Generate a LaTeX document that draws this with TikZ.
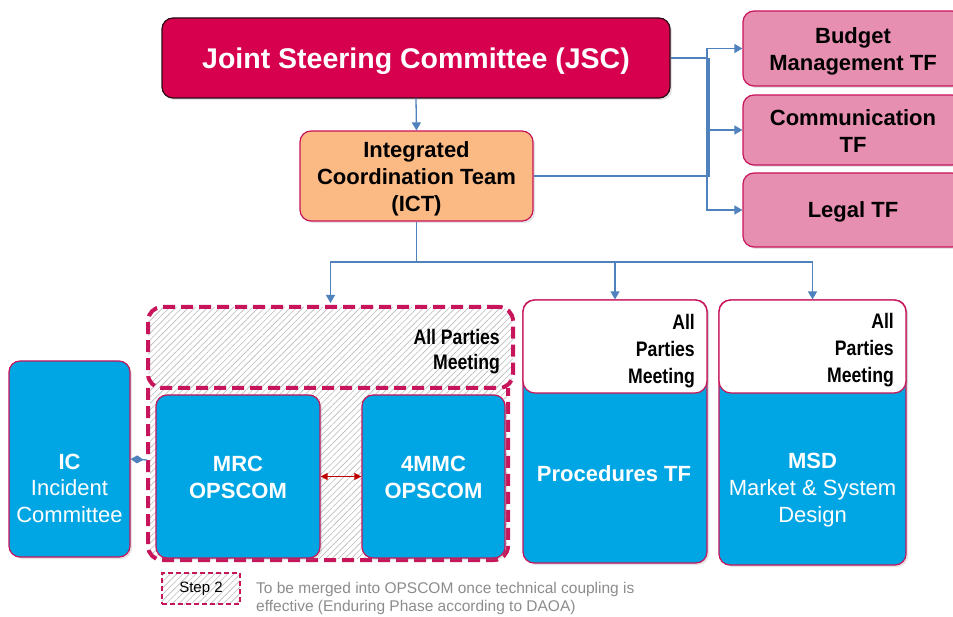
\documentclass[tikz,border=0pt]{standalone}
\usepackage{fontspec}
\setmainfont{Liberation Sans}
\newfontfamily\narrowfont[FakeStretch=0.84]{Liberation Sans}
\usetikzlibrary{arrows.meta,shadows,patterns.meta,calc}
\definecolor{jscred}{HTML}{D6004F}
\definecolor{jscdark}{HTML}{2A0A14}
\definecolor{crim}{HTML}{C8145A}
\definecolor{tfpink}{HTML}{E68FB0}
\definecolor{peach}{HTML}{FBB984}
\definecolor{cyanbox}{HTML}{00A6E4}
\definecolor{connblue}{HTML}{4F81BD}
\definecolor{darkred}{HTML}{C00000}
\definecolor{legendgray}{HTML}{8C8C8C}
\tikzset{
  base/.style={rounded corners=11pt, line width=1.2pt, inner sep=0pt,
    drop shadow={opacity=0.22,shadow xshift=2pt,shadow yshift=-2pt}},
  jscbox/.style={base, fill=jscred, draw=jscdark},
  ictbox/.style={base, fill=peach, draw=crim},
  tfbox/.style={base, fill=tfpink, draw=crim},
  bluebox/.style={base, fill=cyanbox, draw=crim},
  whitetop/.style={rounded corners=12pt, line width=1.2pt, fill=white, draw=crim, inner sep=0pt,
    drop shadow={opacity=0.22,shadow xshift=1.5pt,shadow yshift=-1.5pt}},
  boldtxt/.style={align=center, inner sep=0pt, font=\fontsize{22}{27}\selectfont\bfseries},
  whitetxt/.style={align=center, inner sep=0pt, text=white, font=\fontsize{22}{27}\selectfont\bfseries},
  apmtext/.style={anchor=east, align=right, inner sep=0pt,
    font=\narrowfont\fontsize{21}{27}\selectfont\bfseries},
  hatch/.style={pattern={Lines[angle=45,distance=4.5pt,line width=0.6pt]}, pattern color=gray!55},
  dashline/.style={draw=crim, line width=4pt, dash pattern=on 12pt off 6pt},
  conn/.style={draw=connblue, line width=1.3pt, -{Triangle[length=8pt,width=9pt]}},
  plainconn/.style={draw=connblue, line width=1.3pt},
}
\begin{document}
\begin{tikzpicture}[x=1pt,y=-1pt]
\useasboundingbox (0,0) rectangle (953,617);

% top level
\node[jscbox, minimum width=508pt, minimum height=80pt] (jsc) at (416,58) {};
\node[text=white, inner sep=0pt, font=\fontsize{28.5}{34}\selectfont\bfseries] (jsct) at (416,61) {Joint Steering Committee (JSC)};
\node[ictbox, minimum width=233pt, minimum height=90pt] (ict) at (416.5,176) {};
\node[boldtxt] (ictt) at (416.5,179) {Integrated\\Coordination Team\\(ICT)};
\node[tfbox, minimum width=220pt, minimum height=75pt] (budget) at (853,48.5) {};
\node[boldtxt] (budgett) at (853,51) {Budget\\Management TF};
\node[tfbox, minimum width=220pt, minimum height=70pt] (comm) at (853,130) {};
\node[boldtxt] (commt) at (853,131) {Communication\\TF};
\node[tfbox, minimum width=220pt, minimum height=74pt] (legal) at (853,210) {};
\node[boldtxt] (legalt) at (853,212) {Legal TF};

% connectors at the top
\coordinate (jr) at (707,58);
\draw[plainconn] (jsc.east) -- (jr);
\draw[conn] (jr) |- (budget.west);
\draw[conn] (jr) |- (comm.west);
\draw[conn] (jr) |- (legal.west);
\draw[plainconn] (ict.east) -| ($(jr)+(2,0)$);
\draw[conn] (jsc.south) -- (ict.north);

% hatched dashed OPSCOM region
\path[hatch, rounded corners=14pt] (150,380) rectangle (507,559);
\draw[dashline, rounded corners=14pt] (148,388) -- (148,560) -- (508,560) -- (508,388);
\node[rounded corners=14pt, hatch, dashline, minimum width=365pt, minimum height=81pt, inner sep=0pt] (apm) at (330.5,347.5) {};
\node[apmtext, font=\narrowfont\fontsize{21}{25}\selectfont\bfseries] (apmt) at (500,351.5) {All Parties\\Meeting};

\node[bluebox, minimum width=164pt, minimum height=163pt] (mrc) at (238,476.5) {};
\node[whitetxt] (mrct) at (238,477.5) {MRC\\OPSCOM};
\node[bluebox, minimum width=143pt, minimum height=163pt] (mmc) at (433.5,476.5) {};
\node[whitetxt] (mmct) at (433.5,477.5) {4MMC\\OPSCOM};
\draw[draw=darkred, line width=1.3pt, {Triangle[length=7pt,width=7pt]}-{Triangle[length=7pt,width=7pt]}] (mrc.east) -- (mmc.west);

% IC
\node[bluebox, minimum width=121pt, minimum height=196pt] (ic) at (69.5,459) {};
\node[text=white, align=center, inner sep=0pt, font=\fontsize{22}{26.5}\selectfont] (ictext) at (69.5,488) {\textbf{IC}\\Incident\\Committee};
\coordinate (opsl) at (147,460);
\draw[draw=connblue, line width=1.3pt, {Diamond[length=13pt,width=8pt]}-] (ic.east) -- (opsl);

% Procedures TF
\node[bluebox, minimum width=184pt, minimum height=263pt] (proc) at (615,431.5) {};
\node[whitetop, minimum width=184pt, minimum height=93pt] (procapm) at (615,346.5) {};
\node[apmtext] (procapmt) at (695,351) {All\\Parties\\Meeting};
\node[whitetxt] (proctext) at (614,474) {Procedures TF};

% MSD
\node[bluebox, minimum width=187pt, minimum height=265pt] (msd) at (812.5,432.5) {};
\node[whitetop, minimum width=187pt, minimum height=93pt] (msdapm) at (812.5,346.5) {};
\node[apmtext] (msdapmt) at (894,350) {All\\Parties\\Meeting};
\node[text=white, align=center, inner sep=0pt, font=\fontsize{22}{27}\selectfont] (msdtext) at (812.5,490) {\textbf{MSD}\\Market \& System\\Design};

% ICT down connectors
\coordinate (ib) at (416.5,262);
\draw[plainconn] (ict.south) -- (ib);
\draw[conn] (ib) -| ($(apm.north)+(0,-2)$);
\draw[conn] (ib) -| (proc.north);
\draw[conn] (ib) -| (msd.north);

% legend
\node[hatch, draw=crim, line width=1.5pt, dash pattern=on 5pt off 3pt, minimum width=78pt, minimum height=31pt, inner sep=0pt,
  font=\fontsize{15}{18}\selectfont] (step) at (201,588.5) {Step 2};
\node[anchor=west, align=left, inner sep=0pt, text=legendgray, font=\fontsize{15.5}{18}\selectfont] (legtext) at (256,598)
  {To be merged into OPSCOM once technical coupling is\\effective (Enduring Phase according to DAOA)};
\end{tikzpicture}
\end{document}
